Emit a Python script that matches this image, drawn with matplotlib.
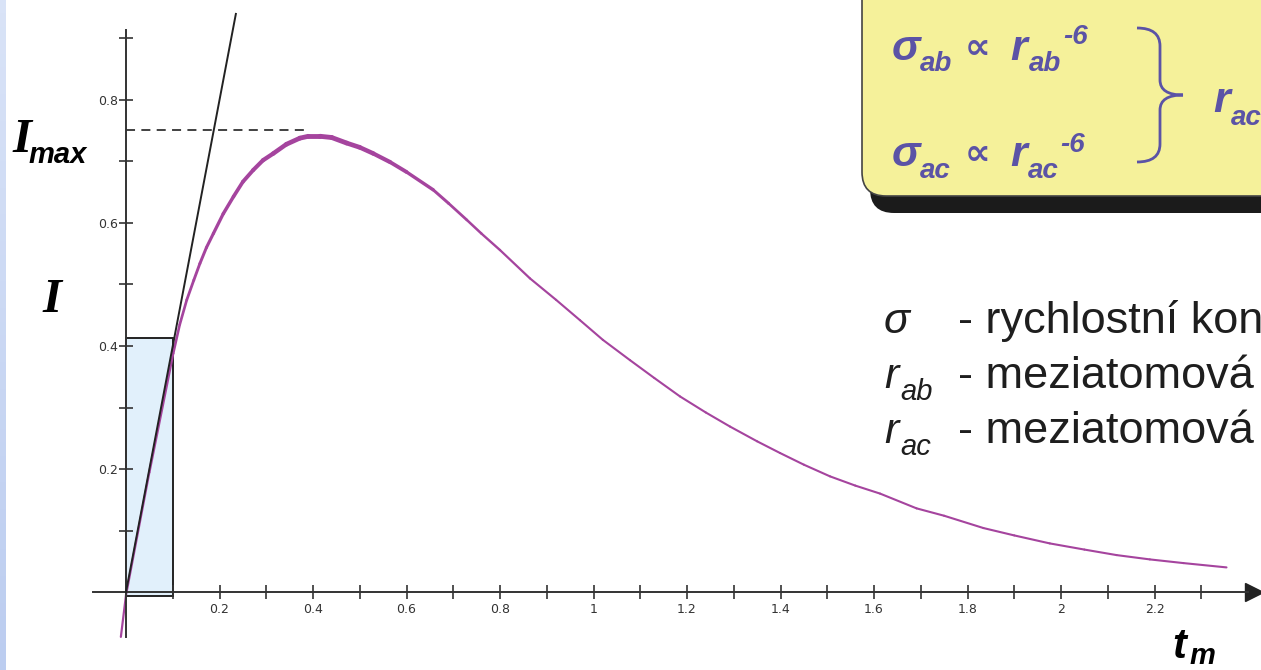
import numpy as np
import matplotlib
matplotlib.use("Agg")
import matplotlib.pyplot as plt
from matplotlib.patches import Rectangle, FancyBboxPatch, PathPatch
from matplotlib.path import Path
from matplotlib.collections import LineCollection

################################################################################
### Data
################################################################################

# intensity curve I(t_m)
t_m = [-0.011, 0.0, 0.05, 0.101, 0.115, 0.13, 0.145, 0.158, 0.172, 0.187,
       0.208, 0.23, 0.25, 0.272, 0.293, 0.315, 0.343, 0.372, 0.39, 0.415,
       0.44, 0.472, 0.50, 0.529, 0.565, 0.600, 0.657, 0.69, 0.729, 0.76,
       0.80, 0.864, 0.92, 0.971, 1.02, 1.078, 1.13, 1.185, 1.24, 1.292,
       1.35, 1.399, 1.45, 1.506, 1.56, 1.613, 1.691, 1.75, 1.834, 1.90,
       1.976, 2.05, 2.119, 2.19, 2.262, 2.354]
intensity = [-0.073, -0.005, 0.195, 0.388, 0.435, 0.475, 0.507, 0.534, 0.560,
             0.583, 0.615, 0.643, 0.667, 0.686, 0.702, 0.713, 0.728, 0.738,
             0.741, 0.741, 0.739, 0.730, 0.723, 0.713, 0.699, 0.683, 0.654,
             0.632, 0.605, 0.583, 0.556, 0.510, 0.475, 0.442, 0.410, 0.377,
             0.348, 0.318, 0.292, 0.269, 0.245, 0.226, 0.207, 0.188, 0.173,
             0.160, 0.136, 0.124, 0.104, 0.092, 0.079, 0.069, 0.060, 0.053,
             0.047, 0.040]

# initial slope line
tangent_t = [0.0, 0.235]
tangent_I = [0.0, 0.94]

# I_max level and the small time window
I_max = 0.751
I_max_end = 0.394
window_t = 0.1
window_top = 0.413
window_bottom = -0.006

# ticks
x_major = [0.2, 0.4, 0.6, 0.8, 1.0, 1.2, 1.4, 1.6, 1.8, 2.0, 2.2]
x_labels = ["0.2", "0.4", "0.6", "0.8", "1", "1.2", "1.4", "1.6", "1.8", "2", "2.2"]
x_minor = [0.1, 0.3, 0.5, 0.7, 0.9, 1.1, 1.3, 1.5, 1.7, 1.9, 2.1, 2.3]
y_major = [0.2, 0.4, 0.6, 0.8]
y_labels = ["0.2", "0.4", "0.6", "0.8"]
y_minor = [0.1, 0.3, 0.5, 0.7, 0.9]

################################################################################
### Figure
################################################################################

W, H = 1261, 670
fig = plt.figure(figsize=(W / 100, H / 100), dpi=100)
fig.patch.set_facecolor("white")

# pixel -> inch position (from top left corner)
def px(x, y):
    return x / 100, (H - y) / 100

def label(x, y, s, size, **kw):
    fig.text(*px(x, y), s, transform=fig.dpi_scale_trans, fontsize=size,
             ha="left", va="baseline", **kw)

# blue strip of the slide on the left
strip = fig.add_axes([0, 0, 6 / W, 1])
strip.imshow(np.linspace(0, 1, 50).reshape(-1, 1), aspect="auto",
             cmap=matplotlib.colors.LinearSegmentedColormap.from_list(
                 "s", ["#d9e3f7", "#bccdf0"]))
strip.axis("off")

# main axes covering the whole picture
ax = fig.add_axes([0, 0, 1, 1])
ax.set_xlim(-126 / 467.5, (W - 126) / 467.5)
ax.set_ylim((592 - H) / 615, 592 / 615)
ax.patch.set_alpha(0)

for side in ["top", "right"]:
    ax.spines[side].set_visible(False)
for side in ["left", "bottom"]:
    ax.spines[side].set_position(("data", 0))
    ax.spines[side].set_color("#333333")
    ax.spines[side].set_linewidth(1.4)
ax.spines["left"].set_bounds(-0.073, 0.914)
ax.spines["bottom"].set_bounds(-0.071, 2.40)
ax.plot([2.412], [0], marker=">", ms=13, color="#222222", clip_on=False)

ax.set_xticks(x_major)
ax.set_xticklabels(x_labels)
ax.set_xticks(x_minor, minor=True)
ax.set_yticks(y_major)
ax.set_yticklabels(y_labels)
ax.set_yticks(y_minor, minor=True)
ax.tick_params(which="both", direction="inout", length=10, width=1.2,
               color="#333333", labelcolor="#333333", labelsize=9)
ax.tick_params(axis="x", pad=3)
ax.tick_params(axis="y", pad=1)

# small time window
ax.add_patch(Rectangle((0, window_bottom), window_t, window_top - window_bottom,
                       facecolor="#e1f0fb", edgecolor="#222222", lw=1.4, zorder=1))

# the curve, thicker around the maximum
pts = np.column_stack([t_m, intensity])
segs = np.stack([pts[:-1], pts[1:]], axis=1)
mid = (pts[:-1, 0] + pts[1:, 0]) / 2
lws = 1.5 + 2.0 * np.exp(-((mid - 0.42) / 0.24) ** 2)
ax.add_collection(LineCollection(segs, linewidths=lws, colors="#a5449e",
                                 capstyle="round", joinstyle="round", zorder=2))

# tangent and I_max level
ax.plot(tangent_t, tangent_I, color="#222222", lw=1.4, zorder=3, clip_on=False)
ax.hlines(I_max, 0, I_max_end, colors="#333333", lw=1.3,
          linestyles=(0, (5, 3.5)), zorder=3)

# axis labels
label(12, 152, "I", 35, family="Liberation Serif", weight="bold", style="italic")
label(28, 163, "max", 21, family="Liberation Sans", weight="bold", style="italic")
label(42, 312, "I", 35, family="Liberation Serif", weight="bold", style="italic")
label(1172, 658, "t", 30, family="Liberation Sans", weight="bold", style="italic")
label(1190, 664, "m", 21, family="Liberation Sans", weight="bold", style="italic")

# yellow box with shadow
shadow = FancyBboxPatch(px(870, 213), 6.0, 2.5, transform=fig.dpi_scale_trans,
                        boxstyle="round,pad=0,rounding_size=0.24",
                        facecolor="#1b1b1b", edgecolor="none")
box = FancyBboxPatch(px(862, 196), 6.0, 2.5, transform=fig.dpi_scale_trans,
                     boxstyle="round,pad=0,rounding_size=0.24",
                     facecolor="#f5f19a", edgecolor="#444444", lw=1.2)
fig.patches.extend([shadow, box])

blue = "#5b53a6"
bfont = dict(family=["Liberation Sans", "DejaVu Sans"], weight="bold",
             style="italic", color=blue)
label(892, 60, "σ", 31, **bfont)
label(920, 71, "ab", 20, **bfont)
label(965, 58, "∝", 26, **bfont)
label(1010, 60, "r", 31, **bfont)
label(1029, 71, "ab", 20, **bfont)
label(1063, 44, "-6", 20, **bfont)
label(892, 166, "σ", 31, **bfont)
label(920, 178, "ac", 20, **bfont)
label(965, 164, "∝", 26, **bfont)
label(1010, 166, "r", 31, **bfont)
label(1028, 178, "ac", 20, **bfont)
label(1060, 152, "-6", 20, **bfont)
label(1213, 112, "r", 31, **bfont)
label(1231, 125, "ac", 20, **bfont)

# curly brace
x0, xm, xp = 1137, 1160, 1183
yt, ym, yb = 28, 95, 162
brace = [(x0, yt), (xm, yt), (xm, yt + 18), (xm, ym - 15), (xm, ym), (xp, ym),
         (xm, ym), (xm, ym + 15), (xm, yb - 18), (xm, yb), (x0, yb)]
codes = [Path.MOVETO, Path.CURVE3, Path.CURVE3, Path.LINETO, Path.CURVE3,
         Path.CURVE3, Path.CURVE3, Path.CURVE3, Path.LINETO, Path.CURVE3, Path.CURVE3]
fig.patches.append(PathPatch(Path([px(*p) for p in brace], codes),
                             transform=fig.dpi_scale_trans, facecolor="none",
                             edgecolor=blue, lw=2.0))

# legend text on the right (as far as the slide shows it)
gray = "#1e1e1e"
label(884, 333, "σ", 31, family="Liberation Sans", style="italic", color=gray)
label(958, 333, "- rychlostní kon", 32.5, family="Liberation Sans", color=gray)
label(884, 388, "r", 31, family="Liberation Sans", style="italic", color=gray)
label(900, 400, "ab", 21, family="Liberation Sans", style="italic", color=gray)
label(958, 388, "- meziatomová", 32.5, family="Liberation Sans", color=gray)
label(884, 443, "r", 31, family="Liberation Sans", style="italic", color=gray)
label(900, 455, "ac", 21, family="Liberation Sans", style="italic", color=gray)
label(958, 443, "- meziatomová", 32.5, family="Liberation Sans", color=gray)

plt.savefig("out.png", dpi=100)
